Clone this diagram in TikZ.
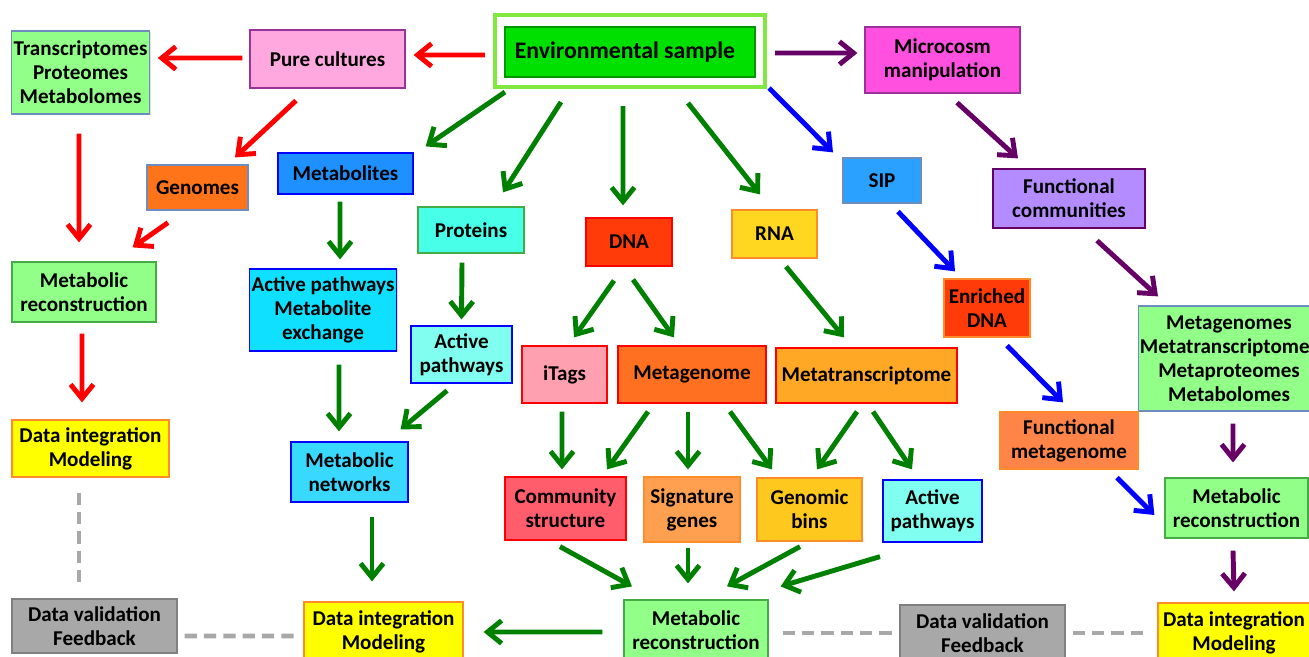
\documentclass[tikz,border=0pt]{standalone}
\usepackage{fontspec}
\setmainfont{Carlito}
\usetikzlibrary{arrows.meta,shadows}

\definecolor{cEnv}{RGB}{0,224,0}
\definecolor{cEnvLine}{RGB}{0,150,0}
\definecolor{cFrame}{RGB}{128,232,64}
\definecolor{cPure}{RGB}{255,168,224}
\definecolor{cLeaf}{RGB}{146,255,136}
\definecolor{cGenome}{RGB}{255,116,24}
\definecolor{cMetab}{RGB}{30,144,255}
\definecolor{cMicro}{RGB}{255,80,224}
\definecolor{cFunc}{RGB}{180,140,255}
\definecolor{cSIP}{RGB}{42,160,255}
\definecolor{cProt}{RGB}{72,255,232}
\definecolor{cDNA}{RGB}{255,59,10}
\definecolor{cRNA}{RGB}{255,214,32}
\definecolor{cActive}{RGB}{16,224,255}
\definecolor{cActLight}{RGB}{128,255,240}
\definecolor{cItags}{RGB}{255,160,176}
\definecolor{cMetag}{RGB}{255,112,32}
\definecolor{cMetat}{RGB}{255,168,38}
\definecolor{cFuncMeta}{RGB}{255,132,72}
\definecolor{cYellow}{RGB}{255,255,0}
\definecolor{cNet}{RGB}{56,216,255}
\definecolor{cComm}{RGB}{255,92,108}
\definecolor{cSig}{RGB}{255,160,80}
\definecolor{cBins}{RGB}{255,200,30}
\definecolor{cGray}{RGB}{168,168,168}
\definecolor{cSlate}{RGB}{110,140,190}
\definecolor{cPlum}{RGB}{153,51,153}
\definecolor{cRed}{RGB}{255,0,0}
\definecolor{cGreen}{RGB}{0,128,0}
\definecolor{cBlue}{RGB}{0,0,255}
\definecolor{cPurp}{RGB}{102,0,102}
\definecolor{cOrange}{RGB}{255,140,40}
\definecolor{cLeafLine}{RGB}{70,170,70}

\begin{document}
\begin{tikzpicture}
\tikzset{box/.style = {draw, line width=0.7pt, align=center, inner sep=1pt,
  font=\fontsize{12}{13.6}\selectfont\bfseries,
  drop shadow={opacity=0.25,shadow xshift=0.8pt,shadow yshift=-0.8pt}}}
\tikzset{flow/.style = {line width=2.8pt, -{Straight Barb[length=8pt,width=13pt]}}}
\tikzset{redarrow/.style = {flow, draw=cRed}}
\tikzset{greenarrow/.style = {flow, draw=cGreen}}
\tikzset{bluearrow/.style = {flow, draw=cBlue}}
\tikzset{purparrow/.style = {flow, draw=cPurp}}
\tikzset{feedback/.style = {draw=cGray, line width=2.8pt, dash pattern=on 7pt off 4pt}}

\useasboundingbox (0,0) rectangle (26.18,-13.14);

% top row
\node[draw=cFrame, line width=2.3pt, fill=white, minimum width=5.4cm, minimum height=1.44cm] (env) at (12.6,-1.02) {};
\node[box, fill=cEnv, draw=cEnvLine, minimum width=5.0cm, minimum height=1.0cm, font=\fontsize{13.5}{15}\selectfont\bfseries] (envtext) at (12.6,-1.04) {Environmental sample\hspace*{0.2cm}};
\node[box, fill=cPure, draw=cPlum, minimum width=3.1cm, minimum height=1.16cm] (pure) at (6.55,-1.18) {Pure cultures};
\node[box, fill=cLeaf, draw=cSlate, minimum width=2.74cm, minimum height=1.66cm] (trans) at (1.61,-1.45) {Transcriptomes\\Proteomes\\Metabolomes};
\node[box, fill=cMicro, draw=cPlum, minimum width=3.1cm, minimum height=1.32cm] (microcosm) at (18.85,-1.2) {Microcosm\\manipulation};

% second row
\node[box, fill=cGenome, draw=cSlate, minimum width=2.02cm, minimum height=0.9cm] (genomes) at (3.95,-3.75) {Genomes};
\node[box, fill=cMetab, draw=cBlue, minimum width=2.7cm, minimum height=0.82cm] (metabolites) at (6.91,-3.47) {Metabolites};
\node[box, fill=cProt, draw=cLeafLine, minimum width=2.12cm, minimum height=0.92cm] (proteins) at (9.42,-4.6) {Proteins};
\node[box, fill=cDNA, draw=cRed, minimum width=1.72cm, minimum height=0.96cm] (dna) at (12.58,-4.84) {DNA};
\node[box, fill=cRNA, draw=cOrange, minimum width=1.7cm, minimum height=0.96cm] (rna) at (15.49,-4.68) {RNA};
\node[box, fill=cSIP, draw=cSlate, minimum width=1.56cm, minimum height=0.9cm] (sip) at (17.64,-3.61) {SIP};
\node[box, fill=cFunc, draw=cPurp, minimum width=3.04cm, minimum height=1.18cm] (funccomm) at (21.38,-3.97) {Functional\\communities};

% third row
\node[box, fill=cLeaf, draw=cLeafLine, minimum width=2.88cm, minimum height=1.2cm] (metrecL) at (1.68,-5.84) {Metabolic\\reconstruction};
\node[box, fill=cActive, draw=cBlue, minimum width=2.88cm, minimum height=1.64cm] (actME) at (6.46,-6.2) {Active pathways\\Metabolite\\exchange};
\node[box, fill=cActLight, draw=cBlue, minimum width=2.02cm, minimum height=1.14cm] (actP) at (9.23,-7.09) {Active\\pathways};
\node[box, fill=cItags, draw=cRed, minimum width=1.7cm, minimum height=1.14cm] (itags) at (11.29,-7.49) {iTags};
\node[box, fill=cMetag, draw=cRed, minimum width=2.96cm, minimum height=1.14cm] (metagenome) at (13.84,-7.49) {Metagenome};
\node[box, fill=cMetat, draw=cRed, minimum width=3.62cm, minimum height=1.1cm] (metatrans) at (17.33,-7.51) {Metatranscriptome};
\node[box, fill=cDNA, draw=cOrange, minimum width=1.72cm, minimum height=1.16cm] (enrdna) at (19.74,-6.16) {Enriched\\DNA};
\node[box, fill=cLeaf, draw=cSlate, minimum width=3.4cm, minimum height=2.1cm] (metagenomes) at (24.58,-7.17) {Metagenomes\\Metatranscriptomes\\Metaproteomes\\Metabolomes};

% fourth row
\node[box, fill=cYellow, draw=cOrange, minimum width=3.14cm, minimum height=1.14cm] (dataintL) at (1.81,-8.97) {Data integration\\Modeling};
\node[box, fill=cNet, draw=cBlue, minimum width=2.34cm, minimum height=1.2cm] (metnet) at (6.99,-9.44) {Metabolic\\networks};
\node[box, fill=cFuncMeta, draw=cOrange, minimum width=2.76cm, minimum height=1.14cm] (funcmeta) at (21.38,-8.81) {Functional\\metagenome};
\node[box, fill=cComm, draw=cRed, minimum width=2.42cm, minimum height=1.26cm] (commstr) at (11.31,-10.17) {Community\\structure};
\node[box, fill=cSig, draw=cOrange, minimum width=1.92cm, minimum height=1.3cm] (siggenes) at (13.84,-10.19) {Signature\\genes};
\node[box, fill=cBins, draw=cOrange, minimum width=2.1cm, minimum height=1.26cm] (genbins) at (16.19,-10.19) {Genomic\\bins};
\node[box, fill=cActLight, draw=cBlue, minimum width=1.98cm, minimum height=1.24cm] (actR) at (18.65,-10.22) {Active\\pathways};
\node[box, fill=cLeaf, draw=cLeafLine, minimum width=2.86cm, minimum height=1.2cm] (metrecR) at (24.73,-10.16) {Metabolic\\reconstruction};

% bottom row
\node[box, fill=cGray, draw=gray, minimum width=3.3cm, minimum height=1.08cm] (dvalL) at (1.89,-12.52) {Data validation\\Feedback};
\node[box, fill=cYellow, draw=cOrange, minimum width=3.18cm, minimum height=1.2cm] (dataintM) at (7.67,-12.64) {Data integration\\Modeling};
\node[box, fill=cLeaf, draw=cLeafLine, minimum width=2.88cm, minimum height=1.2cm] (metrecC) at (13.92,-12.6) {Metabolic\\reconstruction};
\node[box, fill=cGray, draw=gray, minimum width=3.3cm, minimum height=1.12cm] (dvalR) at (19.65,-12.66) {Data validation\\Feedback};
\node[box, fill=cYellow, draw=cOrange, minimum width=3.04cm, minimum height=1.2cm] (dataintR) at (24.68,-12.66) {Data integration\\Modeling};

% pure culture branch
\draw[redarrow] ([xshift=-0.16cm,yshift=-0.08cm]env.west) -- ([xshift=0.16cm,yshift=0.08cm]pure.east);
\draw[redarrow] ([xshift=-0.14cm,yshift=0.02cm]pure.west) -- ([xshift=0.16cm,yshift=0.29cm]trans.east);
\draw[redarrow] ([xshift=-0.63cm,yshift=-0.24cm]pure.south) -- ([xshift=0.75cm,yshift=0.14cm]genomes.north);
\draw[redarrow] ([xshift=-0.03cm,yshift=-0.38cm]trans.south) -- ([xshift=-0.1cm,yshift=0.38cm]metrecL.north);
\draw[redarrow] ([xshift=-0.59cm,yshift=-0.24cm]genomes.south) -- ([xshift=-0.48cm,yshift=0.28cm]metrecL.north east);
\draw[redarrow] ([xshift=-0.04cm,yshift=-0.22cm]metrecL.south) -- ([xshift=-0.17cm,yshift=0.34cm]dataintL.north);

% feedback loops
\draw[feedback] ([xshift=-0.23cm,yshift=-0.3cm]dataintL.south) -- ([xshift=-0.31cm,yshift=0.26cm]dvalL.north);
\draw[feedback] ([xshift=0.14cm,yshift=-0.2cm]dvalL.east) -- ([xshift=-0.18cm,yshift=-0.08cm]dataintM.west);
\draw[feedback] ([xshift=0.28cm,yshift=-0.06cm]metrecC.east) -- ([xshift=-0.14cm]dvalR.west);
\draw[feedback] ([xshift=0.14cm]dvalR.east) -- ([xshift=-0.2cm]dataintR.west);

% direct extraction
\draw[greenarrow] ([xshift=0.24cm,yshift=-0.06cm]env.south west) -- ([xshift=0.24cm,yshift=0.12cm]metabolites.north east);
\draw[greenarrow] ([xshift=-1.38cm,yshift=-0.26cm]env.south) -- ([xshift=0.64cm,yshift=0.28cm]proteins.north);
\draw[greenarrow] ([xshift=-0.14cm,yshift=-0.34cm]env.south) -- ([xshift=-0.12cm,yshift=0.24cm]dna.north);
\draw[greenarrow] ([xshift=1.16cm,yshift=-0.28cm]env.south) -- ([xshift=-0.29cm,yshift=0.3cm]rna.north);
\draw[greenarrow] ([xshift=-0.11cm,yshift=-0.14cm]metabolites.south) -- ([xshift=0.34cm,yshift=0.18cm]actME.north);
\draw[greenarrow] ([xshift=-0.18cm,yshift=-0.18cm]proteins.south) -- ([yshift=0.12cm]actP.north);
\draw[greenarrow] ([xshift=0.32cm,yshift=-0.26cm]actME.south) -- ([xshift=-0.21cm,yshift=0.2cm]metnet.north);
\draw[greenarrow] ([xshift=-0.29cm,yshift=-0.14cm]actP.south) -- ([xshift=-0.16cm,yshift=0.24cm]metnet.north east);
\draw[greenarrow] ([xshift=0.45cm,yshift=-0.28cm]metnet.south) -- ([xshift=-0.23cm,yshift=0.4cm]dataintM.north);
\draw[greenarrow] ([xshift=-0.3cm,yshift=-0.28cm]dna.south) -- ([xshift=0.19cm,yshift=0.16cm]itags.north);
\draw[greenarrow] ([xshift=0.08cm,yshift=-0.26cm]dna.south) -- ([xshift=-0.36cm,yshift=0.16cm]metagenome.north);
\draw[greenarrow] ([xshift=0.23cm,yshift=-0.16cm]rna.south) -- ([xshift=-0.45cm,yshift=0.2cm]metatrans.north);
\draw[greenarrow] ([xshift=-0.05cm,yshift=-0.16cm]itags.south) -- ([xshift=-0.07cm,yshift=0.14cm]commstr.north);
\draw[greenarrow] ([xshift=-0.88cm,yshift=-0.16cm]metagenome.south) -- ([xshift=0.83cm,yshift=0.14cm]commstr.north);
\draw[greenarrow] ([xshift=-0.08cm,yshift=-0.16cm]metagenome.south) -- ([xshift=-0.08cm,yshift=0.14cm]siggenes.north);
\draw[greenarrow] ([xshift=0.76cm,yshift=-0.16cm]metagenome.south) -- ([xshift=-0.75cm,yshift=0.16cm]genbins.north);
\draw[greenarrow] ([xshift=-0.19cm,yshift=-0.16cm]metatrans.south) -- ([xshift=0.15cm,yshift=0.16cm]genbins.north);
\draw[greenarrow] ([xshift=0.13cm,yshift=-0.16cm]metatrans.south) -- ([xshift=-0.41cm,yshift=0.2cm]actR.north);
\draw[greenarrow] ([xshift=-0.11cm,yshift=-0.12cm]commstr.south) -- ([xshift=-1.28cm,yshift=0.26cm]metrecC.north);
\draw[greenarrow] ([xshift=-0.08cm,yshift=-0.1cm]siggenes.south) -- ([xshift=-0.16cm,yshift=0.32cm]metrecC.north);
\draw[greenarrow] ([xshift=-0.19cm,yshift=-0.1cm]genbins.south) -- ([xshift=0.62cm,yshift=0.26cm]metrecC.north);
\draw[greenarrow] ([xshift=-1.05cm,yshift=-0.28cm]actR.south) -- ([xshift=0.24cm,yshift=0.26cm]metrecC.north east);
\draw[greenarrow] ([xshift=-0.42cm,yshift=-0.04cm]metrecC.west) -- ([xshift=0.4cm]dataintM.east);

% stable isotope probing
\draw[bluearrow] ([xshift=0.04cm,yshift=0.02cm]env.south east) -- ([xshift=-0.98cm,yshift=0.1cm]sip.north);
\draw[bluearrow] ([xshift=0.32cm,yshift=-0.16cm]sip.south) -- ([xshift=-0.64cm,yshift=0.14cm]enrdna.north);
\draw[bluearrow] ([xshift=0.4cm,yshift=-0.16cm]enrdna.south) -- ([xshift=-0.12cm,yshift=0.18cm]funcmeta.north);
\draw[bluearrow] ([xshift=0.96cm,yshift=-0.16cm]funcmeta.south) -- ([xshift=-0.2cm,yshift=-0.14cm]metrecR.west);

% microcosms
\draw[purparrow] ([xshift=0.16cm,yshift=-0.04cm]env.east) -- ([xshift=-0.14cm,yshift=0.14cm]microcosm.west);
\draw[purparrow] ([xshift=0.29cm,yshift=-0.18cm]microcosm.south) -- ([xshift=-1.02cm,yshift=0.2cm]funccomm.north);
\draw[purparrow] ([xshift=0.56cm,yshift=-0.24cm]funccomm.south) -- ([xshift=-1.42cm,yshift=0.18cm]metagenomes.north);
\draw[purparrow] ([xshift=0.08cm,yshift=-0.24cm]metagenomes.south) -- ([xshift=-0.07cm,yshift=0.3cm]metrecR.north);
\draw[purparrow] ([xshift=-0.07cm,yshift=-0.24cm]metrecR.south) -- ([yshift=0.22cm]dataintR.north);
\end{tikzpicture}
\end{document}
